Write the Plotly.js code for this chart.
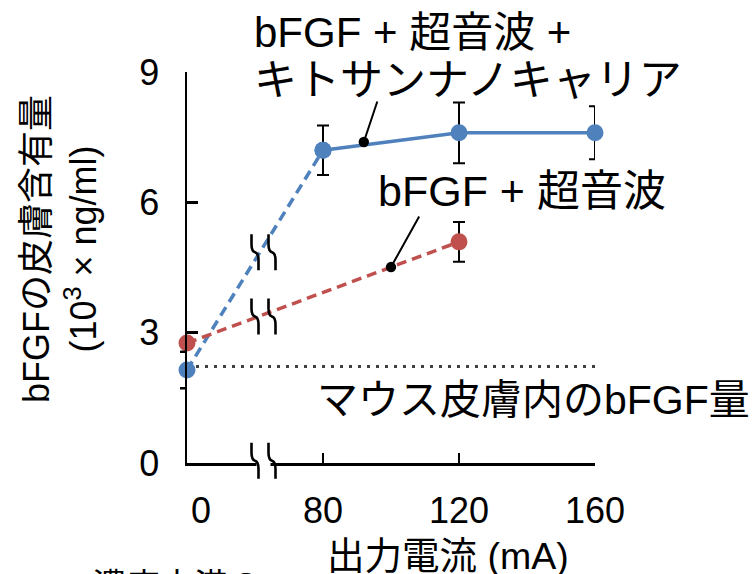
<!DOCTYPE html>
<html>
<head>
<meta charset="utf-8">
<script src="https://cdn.plot.ly/plotly-3.0.1.min.js"></script>
<style>html,body{margin:0;padding:0;background:#fff;}#chart{width:756px;height:574px;}</style>
</head>
<body>
<div id="chart"></div>
<script>
// ---- data ----
const currents = [0, 80, 120, 160];                 // mA
const currentLabels = ['\u2002\u00A00', '80', '120', '160'];
const chitosanMean = [2.14, 7.2, 7.6, 7.6];         // bFGF + 超音波 + キトサンナノキャリア
const chitosanErr = [null, 0.57, 0.7, 0.61];
const usCurrents = [0, 120];
const usMean = [2.76, 5.09];                        // bFGF + 超音波
const usErr = [null, 0.46];
const mouseSkinLevel = 2.22;                         // マウス皮膚内のbFGF量
const yTicks = [0, 3, 6, 9];
const chitosanArrowAt = [92, 7.39];
const usArrowAt = [100, 4.51];

// broken axis: 0 shown one step before 80
const pos = c => (c === 0 ? 0 : (c - 40) / 40);

const BLUE = '#4f81bd', RED = '#c0504d';
const FONT = 'Liberation Sans, Arial, Noto Sans CJK JP, sans-serif';
const L = 187, R = 161, T = 72, B = 111, W = 756, H = 574;
const plotW = W - L - R, plotH = H - T - B;
const X_MAX = 3, Y_MAX = 9;

const traces = [
  { x: currents.slice(0, 2).map(pos), y: chitosanMean.slice(0, 2), mode: 'lines+markers',
    line: { color: BLUE, width: 3.5, dash: '10px,6px' }, marker: { color: BLUE, size: 17 },
    cliponaxis: false, hoverinfo: 'skip' },
  { x: currents.slice(1).map(pos), y: chitosanMean.slice(1), mode: 'lines+markers',
    line: { color: BLUE, width: 3.5 }, marker: { color: BLUE, size: 17 },
    error_y: { type: 'data', array: chitosanErr.slice(1), color: '#000', thickness: 2, width: 6 },
    cliponaxis: false, hoverinfo: 'skip' },
  { x: usCurrents.map(pos), y: usMean, mode: 'lines+markers',
    line: { color: RED, width: 3.5, dash: '10px,6px' }, marker: { color: RED, size: 17 },
    error_y: { type: 'data', array: usErr, color: '#000', thickness: 2, width: 6 },
    cliponaxis: false, hoverinfo: 'skip' }
];

// break marks, drawn in paper coordinates (not clipped to the plot area)
const qx = 1 / plotW, qy = 1 / plotH;
function stroke(cx, cy, offPx) {
  const P = (dx, dy) => (cx + (offPx + dx) * qx) + ',' + (cy + dy * qy);
  return 'M' + P(-3.5, 18) + ' L' + P(-3.5, 8) + ' Q' + P(-3.5, 1) + ' ' + P(0, 0) +
         ' Q' + P(3.5, -1) + ' ' + P(3.5, -8) + ' L' + P(3.5, -18);
}
function breakMark(xData, yData, mask) {
  const cx = xData / X_MAX, cy = yData / Y_MAX;
  const s = [];
  if (mask) s.push({ type: 'rect', xref: 'paper', yref: 'paper', x0: cx - 7 * qx, x1: cx + 7 * qx,
    y0: cy - 6 * qy, y1: cy + 5 * qy, fillcolor: '#fff', line: { width: 0 }, layer: 'above' });
  s.push({ type: 'path', xref: 'paper', yref: 'paper', path: stroke(cx, cy, -8.5), line: { color: '#000', width: 2.6 }, layer: 'above' });
  s.push({ type: 'path', xref: 'paper', yref: 'paper', path: stroke(cx, cy, 8.5), line: { color: '#000', width: 2.6 }, layer: 'above' });
  return s;
}
const bx = 0.5625;
const shapes = [
  { type: 'line', xref: 'x', yref: 'y', x0: pos(currents[0]), x1: pos(currents[3]), y0: mouseSkinLevel, y1: mouseSkinLevel,
    line: { color: '#404040', width: 3, dash: '3px,6px' }, layer: 'below' },
  ...breakMark(bx, 0.05, true),
  ...breakMark(bx, 4.85, false),
  ...breakMark(bx, 3.37, false),
  { type: 'line', xref: 'paper', yref: 'y', x0: -7 / plotW, x1: 0, y0: 2.56, y1: 2.56, line: { color: '#000', width: 2.5 } },
  { type: 'line', xref: 'paper', yref: 'y', x0: -7 / plotW, x1: 0, y0: 1.72, y1: 1.72, line: { color: '#000', width: 2.5 } }
];

const px = xp => (xp - L) / plotW, py = yp => (T + plotH - yp) / plotH;
const annotations = [
  { text: 'bFGF + 超音波 +', xref: 'paper', yref: 'paper', x: px(252), y: py(33), xanchor: 'left', yanchor: 'middle', showarrow: false, font: { size: 42, color: '#000' } },
  { text: 'キトサンナノキャリア', xref: 'paper', yref: 'paper', x: px(252), y: py(80), xanchor: 'left', yanchor: 'middle', showarrow: false, font: { size: 43, color: '#000' } },
  { text: '', xref: 'x', yref: 'y', x: pos(chitosanArrowAt[0]), y: chitosanArrowAt[1], ax: 14, ay: -42,
    showarrow: true, arrowhead: 6, arrowsize: 1.3, arrowwidth: 2, arrowcolor: '#000' },
  { text: 'bFGF + 超音波', xref: 'paper', yref: 'paper', x: px(376), y: py(191), xanchor: 'left', yanchor: 'middle', showarrow: false, font: { size: 43, color: '#000' } },
  { text: '', xref: 'x', yref: 'y', x: pos(usArrowAt[0]), y: usArrowAt[1], ax: 29, ay: -52,
    showarrow: true, arrowhead: 6, arrowsize: 1.3, arrowwidth: 2, arrowcolor: '#000' },
  { text: 'マウス皮膚内のbFGF量', xref: 'paper', yref: 'paper', x: px(315), y: py(400), xanchor: 'left', yanchor: 'middle', showarrow: false, font: { size: 41, color: '#000' } },
  { text: '出力電流 (mA)', xref: 'paper', yref: 'paper', x: px(448), y: py(556), xanchor: 'center', yanchor: 'middle', showarrow: false, font: { size: 37.5, color: '#000' } },
  { text: 'bFGFの皮膚含有量<br>(10<sup>3</sup> × ng/ml)', xref: 'paper', yref: 'paper', x: px(60), y: py(249), xanchor: 'center', yanchor: 'middle', textangle: -90, showarrow: false, font: { size: 36, color: '#000' } },
  { text: '濃度未満の', xref: 'paper', yref: 'paper', x: px(177), y: py(586), xanchor: 'center', yanchor: 'middle', showarrow: false, font: { size: 34, color: '#000' } }
];

const layout = {
  width: W, height: H,
  margin: { l: L, r: R, t: T, b: B, pad: 0 },
  paper_bgcolor: '#fff', plot_bgcolor: '#fff',
  showlegend: false,
  font: { family: FONT, color: '#000' },
  xaxis: { range: [0, X_MAX], showgrid: false, zeroline: false, showline: true, linecolor: '#000', linewidth: 2.5,
    tickmode: 'array', tickvals: currents.map(pos), ticktext: currentLabels,
    ticks: 'inside', ticklen: 10, tickwidth: 2.5, tickcolor: '#000', tickfont: { size: 36, color: '#000' }, ticklabelstandoff: 14 },
  yaxis: { range: [0, Y_MAX], showgrid: false, zeroline: false, showline: true, linecolor: '#000', linewidth: 2.5,
    tickmode: 'array', tickvals: yTicks, ticktext: yTicks.map(String),
    ticks: 'inside', ticklen: 11, tickwidth: 2.5, tickcolor: '#000', tickfont: { size: 36, color: '#000' }, ticklabelstandoff: 18 },
  shapes, annotations
};

Plotly.newPlot('chart', traces, layout, { staticPlot: true, displayModeBar: false });
</script>
</body>
</html>
